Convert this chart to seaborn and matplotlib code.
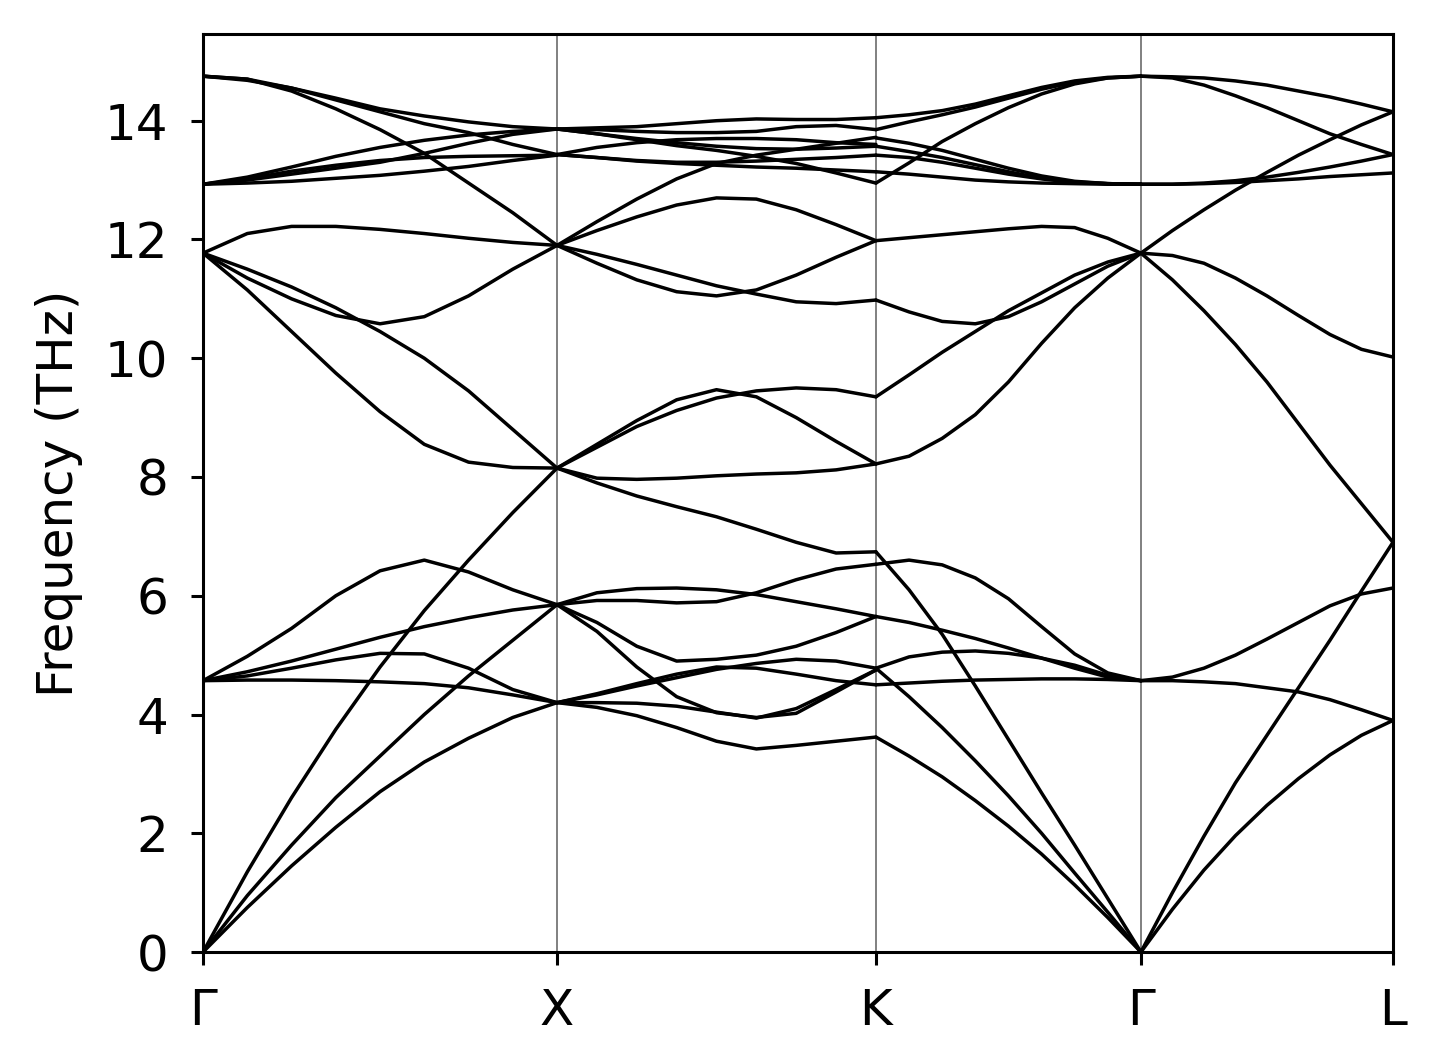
import numpy as np
import pandas as pd
import seaborn as sns
import matplotlib
matplotlib.use("Agg")
import matplotlib.pyplot as plt

# high-symmetry points of the path and their position along it
labels = ["Γ", "X", "K", "Γ", "L"]
node_pos = [0.0, 0.2975, 0.5655, 0.7882, 1.0]

# every row is one band: frequency (THz) at 9 evenly spaced k-points of the segment
gx_bands = [
    [0, 0.75, 1.45, 2.1, 2.7, 3.2, 3.6, 3.95, 4.2],
    [0, 0.95, 1.8, 2.6, 3.3, 4.0, 4.65, 5.25, 5.85],
    [0, 1.35, 2.6, 3.75, 4.8, 5.75, 6.6, 7.4, 8.15],
    [4.57, 4.58, 4.58, 4.57, 4.55, 4.52, 4.45, 4.33, 4.2],
    [4.57, 4.65, 4.78, 4.92, 5.03, 5.02, 4.78, 4.42, 4.2],
    [4.57, 4.72, 4.9, 5.1, 5.3, 5.48, 5.63, 5.76, 5.85],
    [4.57, 4.98, 5.45, 6.0, 6.42, 6.6, 6.4, 6.1, 5.85],
    [11.77, 11.5, 11.2, 10.85, 10.45, 10.0, 9.45, 8.8, 8.15],
    [11.77, 11.15, 10.45, 9.75, 9.1, 8.55, 8.25, 8.16, 8.15],
    [11.77, 12.1, 12.22, 12.22, 12.17, 12.1, 12.02, 11.95, 11.9],
    [11.77, 11.35, 11.0, 10.72, 10.58, 10.7, 11.05, 11.5, 11.9],
    [14.75, 14.7, 14.5, 14.2, 13.85, 13.45, 12.95, 12.45, 11.9],
    [14.75, 14.7, 14.55, 14.38, 14.2, 14.08, 13.98, 13.9, 13.86],
    [14.75, 14.68, 14.55, 14.35, 14.15, 13.95, 13.8, 13.6, 13.43],
    [12.93, 13.05, 13.22, 13.4, 13.55, 13.67, 13.76, 13.82, 13.86],
    [12.93, 13.0, 13.1, 13.2, 13.3, 13.45, 13.62, 13.77, 13.86],
    [12.93, 13.02, 13.15, 13.25, 13.33, 13.38, 13.4, 13.41, 13.42],
    [12.93, 12.95, 12.98, 13.03, 13.08, 13.15, 13.23, 13.33, 13.42],
]

xk_bands = [
    [4.2, 4.12, 3.98, 3.78, 3.55, 3.42, 3.48, 3.55, 3.62],
    [4.2, 4.35, 4.52, 4.68, 4.8, 4.78, 4.68, 4.57, 4.5],
    [4.2, 4.33, 4.48, 4.62, 4.76, 4.86, 4.93, 4.9, 4.78],
    [4.2, 4.2, 4.19, 4.14, 4.04, 3.94, 4.1, 4.42, 4.75],
    [5.85, 5.4, 4.8, 4.3, 4.03, 3.95, 4.02, 4.38, 4.75],
    [5.85, 5.55, 5.15, 4.9, 4.93, 5.0, 5.15, 5.38, 5.65],
    [5.85, 6.05, 6.12, 6.13, 6.1, 6.02, 5.9, 5.78, 5.65],
    [5.85, 5.92, 5.92, 5.88, 5.9, 6.05, 6.27, 6.45, 6.53],
    [8.15, 7.9, 7.68, 7.5, 7.33, 7.12, 6.9, 6.72, 6.74],
    [8.15, 7.98, 7.96, 7.98, 8.02, 8.05, 8.07, 8.12, 8.22],
    [8.15, 8.55, 8.95, 9.3, 9.47, 9.35, 9.0, 8.6, 8.22],
    [8.15, 8.5, 8.85, 9.12, 9.33, 9.45, 9.5, 9.47, 9.35],
    [11.9, 12.15, 12.38, 12.58, 12.7, 12.68, 12.5, 12.25, 11.98],
    [11.9, 11.6, 11.32, 11.12, 11.05, 11.15, 11.4, 11.7, 11.98],
    [11.9, 11.75, 11.58, 11.4, 11.22, 11.08, 10.95, 10.92, 10.98],
    [11.9, 12.3, 12.68, 13.02, 13.28, 13.42, 13.52, 13.62, 13.72],
    [13.86, 13.88, 13.9, 13.95, 14.0, 14.03, 14.02, 14.02, 14.05],
    [13.86, 13.85, 13.82, 13.8, 13.8, 13.82, 13.9, 13.92, 13.85],
    [13.86, 13.78, 13.68, 13.58, 13.5, 13.4, 13.28, 13.12, 12.95],
    [13.86, 13.78, 13.7, 13.63, 13.57, 13.53, 13.52, 13.54, 13.57],
    [13.43, 13.55, 13.63, 13.68, 13.7, 13.7, 13.68, 13.63, 13.6],
    [13.43, 13.38, 13.33, 13.3, 13.3, 13.32, 13.35, 13.38, 13.42],
    [13.43, 13.38, 13.32, 13.28, 13.25, 13.22, 13.2, 13.17, 13.14],
]

kg_bands = [
    [3.62, 3.3, 2.95, 2.55, 2.12, 1.65, 1.13, 0.58, 0],
    [4.78, 4.3, 3.78, 3.22, 2.63, 2.0, 1.33, 0.67, 0],
    [6.74, 6.1, 5.35, 4.48, 3.58, 2.68, 1.8, 0.9, 0],
    [4.5, 4.53, 4.56, 4.58, 4.59, 4.6, 4.6, 4.59, 4.57],
    [4.78, 4.97, 5.05, 5.07, 5.03, 4.95, 4.83, 4.66, 4.57],
    [5.65, 5.55, 5.42, 5.28, 5.12, 4.95, 4.78, 4.63, 4.57],
    [6.53, 6.6, 6.52, 6.3, 5.95, 5.48, 5.02, 4.7, 4.57],
    [8.22, 8.35, 8.65, 9.05, 9.6, 10.25, 10.85, 11.35, 11.77],
    [9.35, 9.72, 10.1, 10.45, 10.8, 11.1, 11.4, 11.62, 11.77],
    [10.98, 10.78, 10.62, 10.58, 10.7, 10.95, 11.25, 11.55, 11.77],
    [11.98, 12.03, 12.08, 12.13, 12.18, 12.22, 12.2, 12.02, 11.77],
    [12.95, 13.29, 13.65, 13.95, 14.22, 14.45, 14.62, 14.72, 14.75],
    [14.05, 14.1, 14.17, 14.28, 14.42, 14.56, 14.67, 14.73, 14.75],
    [13.85, 13.98, 14.1, 14.23, 14.38, 14.53, 14.65, 14.72, 14.75],
    [13.71, 13.62, 13.5, 13.35, 13.2, 13.07, 12.98, 12.94, 12.93],
    [13.57, 13.48, 13.38, 13.26, 13.14, 13.03, 12.97, 12.94, 12.93],
    [13.42, 13.38, 13.3, 13.2, 13.1, 13.02, 12.96, 12.94, 12.93],
    [13.14, 13.1, 13.05, 13.0, 12.97, 12.95, 12.94, 12.93, 12.93],
]

gl_bands = [
    [14.75, 14.74, 14.72, 14.67, 14.6, 14.5, 14.4, 14.28, 14.15],
    [14.75, 14.72, 14.6, 14.42, 14.22, 14.0, 13.78, 13.6, 13.43],
    [11.77, 12.15, 12.5, 12.83, 13.13, 13.42, 13.68, 13.93, 14.15],
    [12.93, 12.93, 12.94, 12.96, 12.99, 13.02, 13.06, 13.09, 13.12],
    [12.93, 12.93, 12.95, 12.99, 13.05, 13.13, 13.22, 13.32, 13.43],
    [11.77, 11.73, 11.6, 11.35, 11.05, 10.72, 10.4, 10.15, 10.02],
    [11.77, 11.32, 10.8, 10.23, 9.6, 8.9, 8.2, 7.55, 6.9],
    [4.57, 4.63, 4.78, 5.0, 5.27, 5.55, 5.83, 6.03, 6.13],
    [4.57, 4.57, 4.55, 4.52, 4.45, 4.38, 4.25, 4.08, 3.9],
    [0, 0.72, 1.38, 1.96, 2.47, 2.92, 3.32, 3.65, 3.9],
    [0, 1.0, 1.95, 2.85, 3.65, 4.45, 5.25, 6.08, 6.9],
]

segments = [gx_bands, xk_bands, kg_bands, gl_bands]

rows = []
for s, bands in enumerate(segments):
    kpts = np.linspace(node_pos[s], node_pos[s + 1], len(bands[0]))
    for b, freqs in enumerate(bands):
        for k, f in zip(kpts, freqs):
            rows.append((k, f, f"{s}-{b}"))
df = pd.DataFrame(rows, columns=["k", "freq", "band"])

sns.set_style("ticks")
plt.rcParams["font.family"] = ["DejaVu Sans"]
plt.rcParams["font.size"] = 18

fig = plt.figure(figsize=(7.175, 5.315), dpi=200)
ax = fig.add_axes([0.1415, 0.1044, 0.8292, 0.8636])

for p in node_pos[1:-1]:
    ax.axvline(p, color="gray", lw=0.7, zorder=0)

sns.lineplot(data=df, x="k", y="freq", units="band", estimator=None,
             color="black", lw=1.25, sort=False, ax=ax)

ax.set_xlim(node_pos[0], node_pos[-1])
ax.set_ylim(0, 15.46)
ax.set_yticks(range(0, 15, 2))
ax.set_xticks(node_pos)
ax.set_xticklabels(labels)
ax.set_xlabel("")
ax.set_ylabel("Frequency (THz)", color="black", fontsize=18, labelpad=8)
for sp in ax.spines.values():
    sp.set_linewidth(1.1)
    sp.set_color("black")
ax.tick_params(direction="out", length=4.5, width=1.1, colors="black",
               labelsize=18)
ax.tick_params(axis="y", pad=8)
ax.tick_params(axis="x", pad=8)

fig.savefig("out.png", dpi=200)
